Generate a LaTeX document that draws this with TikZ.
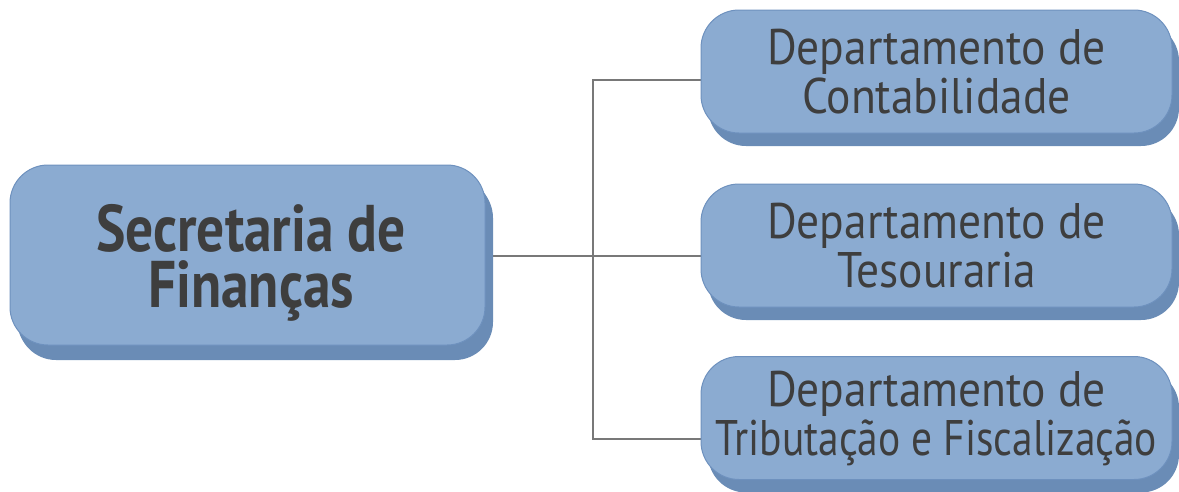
\documentclass[tikz,border=0pt]{standalone}
\usepackage{fontspec}
\usetikzlibrary{shadows,backgrounds}
\newfontfamily\deptfont[FakeStretch=0.91]{PT Sans}
\newfontfamily\deptnarrow[FakeStretch=0.83]{PT Sans}
\newfontfamily\mainfont[FakeStretch=0.84]{PT Sans Bold}
\definecolor{facecol}{RGB}{139,171,209}
\definecolor{edgecol}{RGB}{110,145,190}
\definecolor{shadcol}{RGB}{106,140,182}
\definecolor{txtcol}{RGB}{62,62,62}
\definecolor{linecol}{RGB}{120,120,120}
\tikzset{
  box/.style={draw=edgecol, line width=1pt, fill=facecol, rounded corners=38pt,
    inner sep=0pt,
    drop shadow={shadow xshift=7pt, shadow yshift=-13pt, opacity=1, fill=shadcol}},
  mainbox/.style={box, minimum width=475pt, minimum height=180pt,
    drop shadow={shadow xshift=8pt, shadow yshift=-15pt, opacity=1, fill=shadcol}},
  maintext/.style={text=txtcol, align=center, inner sep=0pt,
    font=\mainfont\fontsize{66}{56}\selectfont},
  deptbox/.style={box, minimum width=471pt, minimum height=123pt, text=txtcol,
    align=center, font=\deptfont\fontsize{50}{49}\selectfont},
  conn/.style={draw=linecol, line width=1.3pt}
}
\begin{document}
\begin{tikzpicture}[x=1pt,y=-1pt]
\useasboundingbox (0,0) rectangle (1179,491);
\node[mainbox] (main) at (247.5,255) {};
\node[maintext] (mtext) at (251,263) {Secretaria de\\Finanças};
\node[deptbox] (c1) at (936.5,71.5) {Departamento de\\Contabilidade};
\node[deptbox] (c2) at (936.5,245.5) {Departamento de\\Tesouraria};
\node[deptbox] (c3) at (936.5,418) {Departamento de\\{\deptnarrow Tributação e Fiscalização}};
\coordinate (j1) at (593,80);
\coordinate (j2) at (593,256);
\coordinate (j3) at (593,439);
\begin{scope}[on background layer]
\draw[conn] (main.east |- j2) -- (j2) -- (c2.west |- j2);
\draw[conn] (c1.west |- j1) -- (j1) -- (j3) -- (c3.west |- j3);
\end{scope}
\end{tikzpicture}
\end{document}
